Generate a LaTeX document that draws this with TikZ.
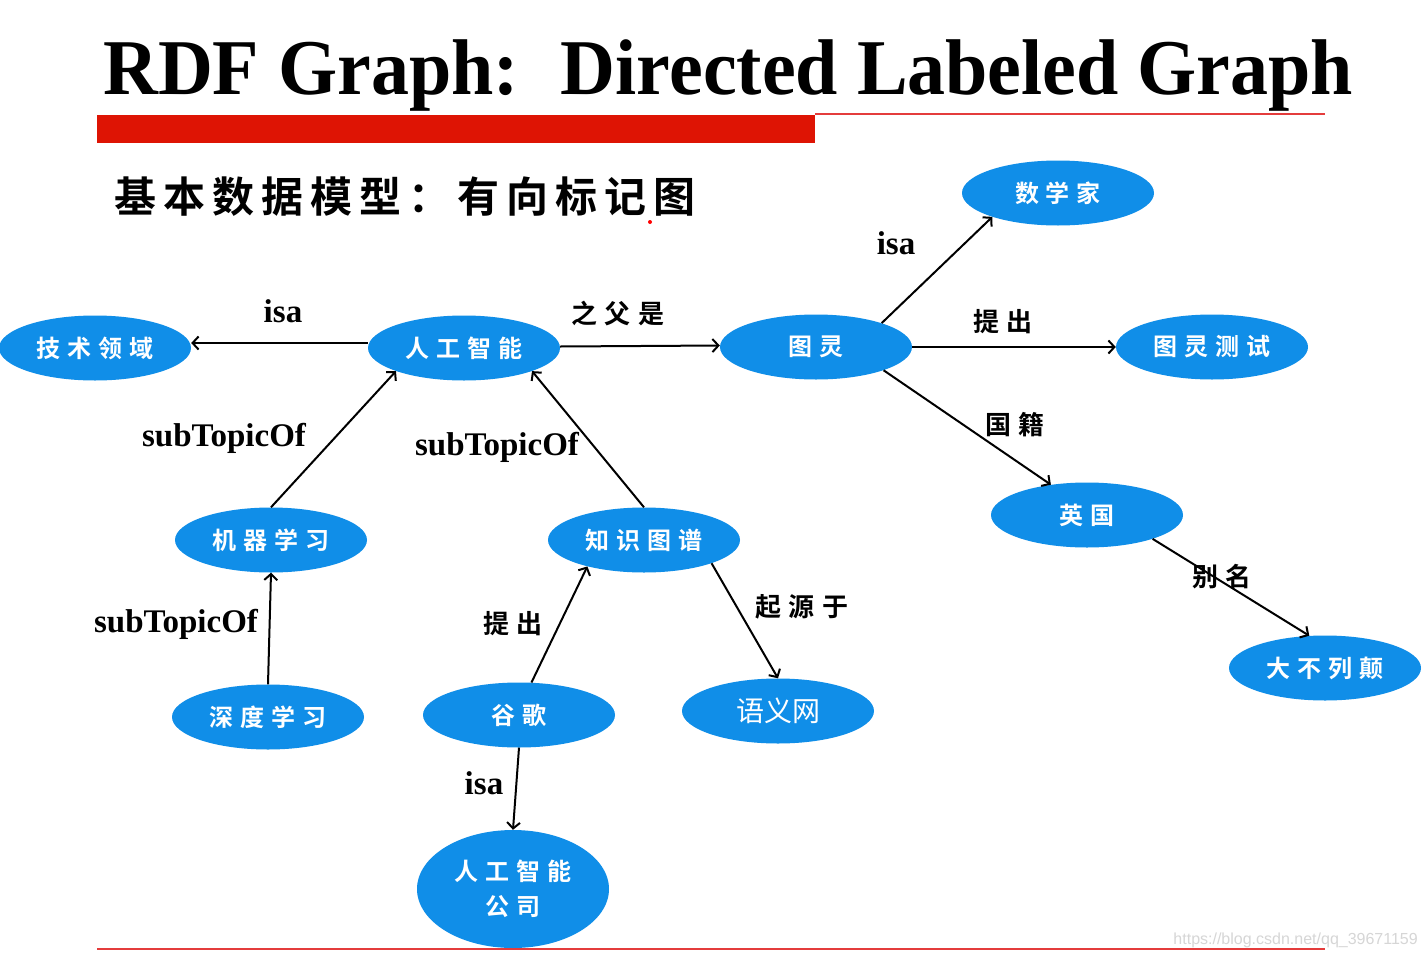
\documentclass[tikz,border=0pt]{standalone}
\usepackage{fontspec}
\usepackage{graphicx}
\setmainfont{Liberation Serif}
\newfontfamily\cjk{Noto Sans CJK SC}[BoldFont={Noto Sans CJK SC Bold}]
\newfontfamily\wmfont{Liberation Sans}
\usetikzlibrary{shapes.geometric,arrows.meta}
\definecolor{nodeblue}{RGB}{16,142,232}
\definecolor{barred}{RGB}{222,20,4}
\definecolor{linered}{RGB}{228,60,60}
\definecolor{wmgray}{RGB}{214,214,214}
\newcommand\gap{\hspace{0.28em}}
\begin{document}
\begin{tikzpicture}[x=1pt,y=-1pt,
  ent/.style={ellipse, fill=nodeblue, minimum width=192pt, minimum height=65pt, inner sep=0pt, text=white, font=\cjk\bfseries\fontsize{24}{35}\selectfont},
  rel/.style={draw=black, line width=2pt, -{Straight Barb[length=6pt,width=13pt]}},
  enlab/.style={anchor=base, inner sep=0pt, font=\bfseries\fontsize{33}{36}\selectfont},
  cnlab/.style={inner sep=0pt, font=\cjk\bfseries\fontsize{26}{30}\selectfont},
]
\useasboundingbox (0,0) rectangle (1428,956);
\fill[white] (0,0) rectangle (1428,956);

% title
\node[anchor=base west, inner sep=0pt] (title) at (103,94)
  {\resizebox{1250pt}{\height}{\bfseries\fontsize{79}{90}\selectfont RDF Graph:\hspace{0.55em}Directed Labeled Graph}};
\fill[barred] (97,115) rectangle (815,143);
\draw[linered, line width=1.5pt] (815,114) -- (1325,114);
\draw[linered, line width=2.5pt] (97,949) -- (1325,949);

% subtitle
\node[inner sep=0pt, font=\cjk\bfseries\fontsize{42}{48}\selectfont] (sub) at (405,197)
  {基\,本\,数\,据\,模\,型\,：\,有\,向\,标\,记\,图};
\fill[red] (650,222) circle (2);

% entities
\node[ent] (tech) at (95,348) {技\gap 术\gap 领\gap 域};
\node[ent] (ai) at (464,348) {人\gap 工\gap 智\gap 能};
\node[ent] (turing) at (816,347) {图\gap 灵};
\node[ent] (math) at (1058,193) {数\gap 学\gap 家};
\node[ent] (test) at (1212,347) {图\gap 灵\gap 测\gap 试};
\node[ent] (uk) at (1087,515) {英\gap 国};
\node[ent] (gb) at (1325,668) {大\gap 不\gap 列\gap 颠};
\node[ent] (ml) at (271,540) {机\gap 器\gap 学\gap 习};
\node[ent] (kg) at (644,540) {知\gap 识\gap 图\gap 谱};
\node[ent] (dl) at (268,717) {深\gap 度\gap 学\gap 习};
\node[ent] (gg) at (519,715) {谷\gap 歌};
\node[ent, font=\cjk\fontsize{28}{32}\selectfont] (sw) at (778,711) {语义网};
\node[ent, minimum height=118pt, align=center] (co) at (513,889) {人\gap 工\gap 智\gap 能\\公\gap 司};

% relations
\draw[rel] ([yshift=5pt]ai.west) -- ([yshift=5pt]tech.east);
\draw[rel] ([yshift=1.5pt]ai.east) -- ([yshift=1.5pt]turing.west);
\draw[rel] (turing.20) -- (math.200);
\draw[rel] (turing.east) -- (test.west);
\draw[rel] (turing.341) -- (uk.140);
\draw[rel] (uk.340) -- (gb.116);
\draw[rel] (ml.north) -- (ai.south west);
\draw[rel] (kg.north) -- (ai.south east);
\draw[rel] (dl.north) -- (ml.south);
\draw[rel] (gg.69) -- (kg.205);
\draw[rel] (kg.341) -- (sw.north);
\draw[rel] (gg.south) -- (co.north);

% labels
\node[enlab] (l1) at (283,322) {isa};
\node[cnlab] (l2) at (618,313) {之\gap 父\gap 是};
\node[enlab] (l3) at (896,254) {isa};
\node[cnlab] (l4) at (1003,322) {提\gap 出};
\node[cnlab] (l5) at (1015,425) {国\gap 籍};
\node[cnlab] (l6) at (1222,577) {别\gap 名};
\node[enlab] (l7) at (224,446) {subTopicOf};
\node[enlab] (l8) at (497,455) {subTopicOf};
\node[enlab] (l9) at (176,632) {subTopicOf};
\node[cnlab] (l10) at (513,624) {提\gap 出};
\node[cnlab] (l11) at (802,607) {起\gap 源\gap 于};
\node[enlab] (l12) at (484,794) {isa};

% watermark
\node[anchor=base east, inner sep=0pt, text=wmgray, font=\wmfont\fontsize{16}{20}\selectfont] (wm) at (1418,944) {https://blog.csdn.net/qq\_39671159};
\end{tikzpicture}
\end{document}
